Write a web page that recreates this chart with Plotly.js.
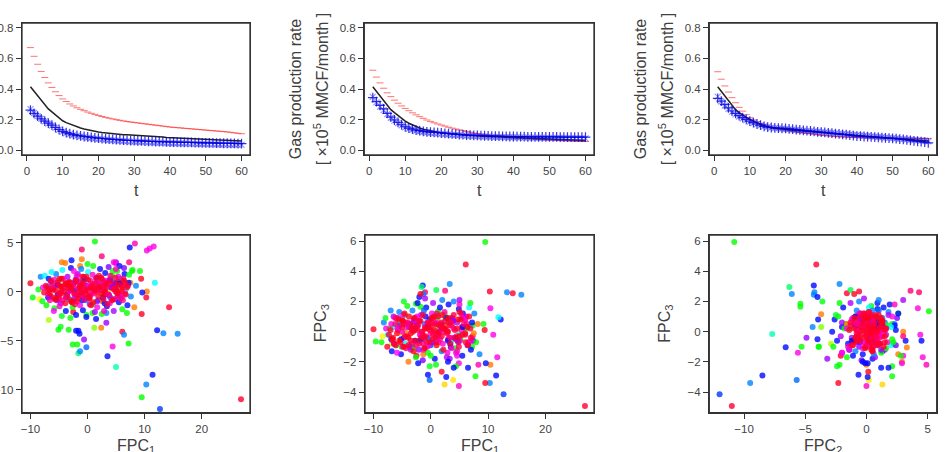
<!DOCTYPE html>
<html><head><meta charset="utf-8">
<script src="https://cdn.plot.ly/plotly-3.0.1.min.js"></script>
<style>html,body{margin:0;padding:0;background:#fff}#chart{width:946px;height:452px}</style>
</head><body><div id="chart"></div>
<script>
// ---------- top row: curves over t ----------
const t = [1,2,3,4,5,6,7,8,9,10,11,12,13,14,15,16,17,18,19,20,21,22,23,24,25,26,27,28,29,30,
  31,32,33,34,35,36,37,38,39,40,41,42,43,44,45,46,47,48,49,50,51,52,53,54,55,56,57,58,59,60];

const p1Red = [.671,.614,.562,.515,.475,.440,.410,.382,.357,.335,.318,.302,.289,.277,.267,.258,.249,.241,.234,.226,
  .220,.214,.209,.204,.199,.195,.191,.187,.184,.181,.178,.175,.172,.169,.166,.163,.160,.157,.154,.151,
  .149,.147,.145,.143,.141,.139,.137,.135,.133,.131,.129,.127,.125,.123,.121,.119,.116,.113,.110,.107];
const p1Black = [.415,.385,.355,.325,.295,.270,.250,.230,.210,.192,.180,.170,.160,.152,.145,.138,.132,.127,.122,.118,
  .115,.112,.109,.107,.105,.103,.101,.100,.099,.098,.096,.094,.093,.091,.090,.088,.087,.085,.083,.082,
  .081,.080,.079,.078,.077,.076,.075,.074,.073,.072,.071,.070,.069,.068,.067,.066,.065,.064,.062,.060];
const p1Plus = [.262,.240,.222,.205,.190,.176,.163,.148,.135,.122,.114,.108,.102,.097,.093,.089,.086,.083,.080,.078,
  .076,.074,.072,.070,.068,.067,.065,.064,.063,.062,.061,.060,.059,.058,.057,.056,.055,.055,.054,.053,
  .053,.052,.051,.051,.050,.050,.049,.049,.048,.048,.047,.047,.046,.046,.045,.045,.044,.044,.043,.043];
const p1Cross = [.268,.243,.222,.204,.188,.173,.160,.146,.133,.120,.111,.104,.098,.093,.089,.085,.081,.078,.075,.072,
  .070,.068,.066,.064,.062,.060,.059,.057,.056,.055,.054,.053,.052,.051,.050,.049,.048,.047,.046,.045,
  .045,.044,.043,.043,.042,.041,.041,.040,.040,.039,.038,.038,.037,.037,.036,.036,.035,.035,.034,.034];

const p2Red = [.523,.478,.440,.405,.375,.350,.327,.307,.289,.273,.258,.244,.231,.219,.208,.197,.188,.179,.171,.164,
  .157,.150,.144,.138,.132,.127,.122,.117,.112,.107,.104,.101,.098,.095,.093,.090,.088,.086,.083,.081,
  .080,.078,.077,.075,.074,.072,.071,.070,.068,.067,.066,.064,.063,.062,.061,.060,.059,.058,.057,.056];
const p2Black = [.415,.385,.350,.320,.290,.265,.245,.225,.207,.190,.176,.164,.154,.145,.137,.131,.125,.120,.117,.114,
  .111,.108,.105,.103,.101,.099,.097,.095,.093,.092,.091,.090,.089,.088,.087,.086,.085,.084,.082,.081,
  .080,.079,.078,.077,.076,.075,.074,.073,.072,.071,.070,.069,.069,.068,.067,.066,.066,.065,.064,.063];
const p2Plus = [.343,.318,.293,.270,.240,.216,.197,.181,.166,.153,.144,.137,.131,.127,.123,.120,.118,.116,.114,.112,
  .110,.108,.106,.104,.102,.101,.099,.098,.097,.096,.095,.094,.093,.092,.091,.091,.090,.090,.089,.089,
  .088,.088,.088,.087,.087,.087,.087,.086,.086,.086,.086,.086,.085,.085,.085,.085,.085,.085,.085,.085];
const p2Cross = [.348,.312,.285,.262,.236,.212,.193,.177,.162,.149,.140,.133,.127,.122,.118,.115,.112,.110,.108,.106,
  .104,.102,.100,.099,.097,.096,.094,.093,.092,.091,.090,.089,.088,.087,.087,.086,.085,.085,.084,.084,
  .083,.083,.082,.082,.082,.081,.081,.081,.080,.080,.080,.079,.079,.079,.078,.078,.078,.077,.077,.077];

const p3Red = [.513,.464,.420,.380,.343,.310,.280,.255,.232,.212,.198,.186,.175,.165,.157,.151,.145,.140,.135,.131,
  .127,.123,.119,.116,.113,.110,.107,.104,.100,.097,.095,.093,.091,.089,.087,.086,.085,.084,.083,.082,
  .081,.081,.080,.080,.079,.079,.079,.078,.078,.078,.078,.077,.077,.077,.077,.077,.077,.077,.077,.077];
const p3Black = [.415,.385,.355,.322,.290,.265,.245,.228,.214,.201,.189,.178,.168,.159,.151,.147,.143,.140,.138,.136,
  .134,.131,.129,.127,.125,.123,.121,.119,.117,.114,.112,.110,.107,.105,.103,.101,.099,.097,.095,.092,
  .091,.089,.088,.086,.085,.083,.082,.080,.079,.077,.076,.074,.073,.071,.069,.067,.065,.063,.061,.059];
const p3Plus = [.339,.320,.298,.277,.256,.240,.226,.213,.201,.190,.180,.171,.163,.156,.151,.148,.146,.144,.143,.142,
  .139,.137,.134,.132,.129,.127,.125,.123,.120,.118,.116,.113,.111,.108,.106,.103,.101,.098,.095,.092,
  .091,.089,.088,.086,.085,.083,.082,.080,.079,.077,.075,.072,.070,.067,.064,.061,.058,.055,.052,.048];
const p3Cross = [.350,.318,.292,.270,.250,.234,.220,.207,.196,.186,.177,.169,.162,.156,.151,.147,.144,.142,.140,.138,
  .136,.134,.132,.130,.128,.126,.124,.122,.120,.118,.116,.114,.112,.110,.108,.106,.104,.102,.100,.098,
  .096,.094,.092,.090,.088,.086,.084,.082,.080,.078,.076,.074,.072,.070,.068,.066,.064,.062,.060,.058];

// ---------- bottom row: FPC scores of the wells ----------
const fpc1 = [
  26.9,12.7,9.5,10.3,11.4,5.0,3.5,6.1,13.3,14.3,15.8,12.2,11.8,10.3,10.4,10.9,11.6,8.3,2.5,-1.0,7.4,1.3,-10.0,-9.6,5.0,
  3.3,-1.4,-2.0,-4.7,-1.6,-1.3,-2.6,-1.8,-0.6,4.4,-0.2,7.2,2.4,6.4,1.2,3.3,-1.6,9.5,10.4,9.6,9.2,9.4,-1.0,-1.3,-4.5,
  -3.9,-2.8,4.6,4.9,4.9,7.3,-6.8,-5.1,7.8,4.4,2.4,3.9,2.7,-0.5,1.9,4.0,6.5,-0.2,0.9,-2.5,-8.4,0.95,-1.8,-3.3,
  -8.2,-7.5,-8.6,-7.9,-7.2,-6.8,-6.5,-6.1,-5.8,-5.5,-5.2,-5.0,-4.7,-4.4,-4.1,-3.8,-3.5,-3.2,-2.9,-2.6,-2.3,-2.0,-1.7,-1.4,
  -1.1,-0.8,-0.5,-0.2,0.1,0.4,0.7,1.0,1.3,1.6,1.9,2.2,2.5,2.8,3.1,3.4,3.7,4.0,4.3,4.6,4.9,5.2,5.5,5.8,6.1,6.4,6.7,7.0,
  7.3,7.6,7.9,8.2,8.5,6.9,5.6,-6.3,-7.0,-3.0,-4.5,1.5,0.0,2.0,-1.0,3.0,-2.2,7.5,6.0,-5.4,2.6,-1.2,3.6,-3.6,4.8,-0.3,1.1,-6.9,
  -7.8,-6.6,-5.6,-4.9,-4.2,-3.3,-2.7,-1.9,-1.3,-0.6,0.2,0.9,1.7,2.4,3.2,3.9,4.6,5.4,6.2,7.1,-2.4,2.9,-5.9,5.0,
  -7.3,-6.9,-6.4,-6.0,-5.7,-5.2,-4.8,-4.5,-4.0,-3.7,-3.4,-3.0,-2.7,-2.5,-2.1,-1.8,-1.6,-1.2,-0.9,-0.7,
  -0.4,-0.1,0.2,0.5,0.8,1.1,1.4,1.7,2.1,2.4,2.7,3.0,3.3,3.6,3.9,4.2,4.5,4.8,5.1,5.4,
  5.7,6.0,6.3,6.6,6.9,7.2,-7.6,-6.2,-5.0,-3.9,-2.9,-2.0,-1.0,0.0,1.0,2.0,3.0,4.0,5.0,6.0,
  -6.7,-5.4,-4.3,-3.2,-2.3,-1.4,-0.5,0.4,1.3,2.2,3.1,4.1,5.3,6.5,-5.8,-4.6,-3.5,-2.4,-1.3,-0.2,
  0.9,1.9,2.9,3.8,4.7,5.6,-6.1,-3.8,-1.7,0.6,2.6,4.4,-4.9,-2.6,-0.6,1.5,3.4,5.5,-3.1,0.3,
  -7.0,-6.6,-6.2,-5.9,-5.6,-5.3,-5.0,-4.7,-4.4,-4.1,-3.8,-3.5,-3.2,-2.9,-2.6,-2.3,-2.0,-1.7,-1.4,-1.1,-0.8,-0.5,-0.2,0.1,
  0.4,0.7,1.0,1.3,1.6,1.9,2.2,2.5,2.8,3.1,3.4,3.7,4.0,4.3,4.6,4.9,5.2,5.5,5.8,6.1,6.4,6.7,7.0,
  -6.4,-4.9,-3.9,-2.2,-0.9,0.6,2.0,3.5,5.0,-3.0,-4.6,-1.5,0.0,1.2,-0.3,0.9,-2.8,3.0,-5.5,6.0,-1.0,0.3,1.8];
const fpc2 = [
  -11.0,-12.0,-10.8,-9.5,-8.5,-7.7,-6.6,-4.1,-4.25,-1.6,-4.3,-3.95,0.9,-0.6,4.2,4.4,4.6,4.9,3.6,4.3,4.5,5.1,0.85,-0.6,3.0,
  -2.2,-4.3,-4.0,-3.6,-6.3,-6.1,-5.4,-5.4,-4.9,-5.6,-5.7,-5.3,-3.7,-4.4,-3.7,-3.2,-4.0,-2.3,0.0,-0.1,2.1,1.3,3.3,2.6,3.0,
  2.9,3.2,3.0,2.9,0.0,3.0,-2.9,-3.9,2.1,2.1,1.3,0.2,0.1,-0.65,0.15,1.2,1.8,-2.4,-2.2,-2.1,-0.8,-1.3,-1.0,-3.9,
  1.5,1.6,0.2,-1.0,-1.4,1.3,-0.5,0.9,-1.7,1.8,-0.3,1.1,-1.2,2.2,0.4,-2.0,1.5,-0.8,2.4,-1.6,0.9,-2.4,1.8,-0.4,
  2.3,-1.9,1.2,-2.6,2.0,-1.3,0.5,2.6,-2.1,1.4,-0.9,2.3,-2.3,0.7,1.9,-1.5,2.5,-0.6,1.6,-2.0,0.9,2.1,-1.1,1.3,-1.8,2.4,0.2,-1.4,
  1.7,-0.5,2.2,-1.6,0.6,-2.2,2.6,2.0,0.5,-2.7,-2.5,-2.8,2.8,1.0,-0.2,-0.3,0.1,0.9,0.1,0.7,-1.0,1.0,0.4,-0.3,-0.8,-0.9,0.3,-0.6,
  0.4,-0.9,0.6,-1.5,1.3,0.0,-1.1,1.6,-1.4,0.7,-0.6,1.7,-1.6,0.2,1.1,-1.2,0.5,1.5,-0.9,0.6,2.1,-2.0,-2.0,2.3,
  0.6,-0.3,1.0,0.2,-0.8,0.7,-0.1,1.3,0.4,-0.6,0.9,0.1,-1.1,0.5,1.2,-0.4,0.3,0.8,-0.9,1.5,
  0.0,0.6,-0.5,1.1,0.3,-0.2,0.8,-1.0,0.5,1.4,-0.6,0.2,0.9,-0.3,1.2,0.4,-0.8,0.7,0.1,1.0,
  -0.5,0.6,1.3,-0.2,0.4,0.9,-0.1,0.3,-0.7,0.8,0.2,1.1,-0.4,0.5,0.0,0.7,-1.2,1.6,0.3,-0.6,
  0.2,-0.9,0.5,1.0,-0.3,0.6,1.3,-0.6,0.1,0.8,-0.2,0.4,-0.5,0.9,1.2,0.0,0.7,-0.8,0.3,1.5,
  -0.1,0.5,1.0,-0.4,0.2,0.8,0.3,-0.6,1.1,0.4,-0.3,0.7,0.6,-1.0,0.1,1.3,0.5,-0.2,0.9,-0.5,
  0.3,-0.2,0.6,-0.6,0.1,0.9,-0.4,0.5,-0.9,0.0,0.8,-0.5,0.3,-1.0,0.7,-0.2,1.1,-0.7,0.4,-0.1,0.9,-0.8,0.2,1.2,
  -0.4,0.6,-1.1,0.1,0.9,-0.5,0.4,1.3,-0.8,0.0,0.8,-0.3,1.0,-0.9,0.3,1.4,-0.2,0.7,-0.7,0.4,1.1,-0.3,0.6,
  1.1,1.3,-1.2,-1.3,1.5,-1.4,1.6,-1.3,0.2,0.5,-0.2,0.0,0.1,0.3,-0.3,0.8,0.2,0.6,-0.8,0.0,0.5,-0.7,0.0];
const fpc3 = [
  -4.93,-4.15,5.93,-3.4,-2.9,-0.15,-1.04,4.45,2.6,2.55,2.45,0.8,0.95,2.65,1.55,-0.2,-1.7,-2.2,2.7,2.6,-0.6,1.35,0.15,-0.65,2.1,
  3.15,3.05,2.3,2.0,2.95,2.5,1.85,1.65,-0.4,-1.4,-3.2,-1.0,1.15,0.3,0.3,-1.8,-0.5,-3.4,-2.2,-2.1,0.5,0.1,-1.05,-1.5,0.0,
  -2.0,-0.6,-1.6,-2.1,-3.6,-0.3,-0.8,-1.0,-2.95,-2.3,-3.5,-3.2,-3.0,-2.85,-2.65,-2.4,-2.4,-2.3,-2.2,-1.6,-0.3,2.75,2.5,-1.0,
  0.6,-0.2,-0.7,0.9,0.2,-1.3,1.0,-0.9,0.5,1.3,-1.5,0.8,-0.4,-0.8,1.7,0.3,-1.2,1.4,0.1,-1.7,1.9,-0.6,1.1,-1.9,
  0.5,1.6,-1.4,0.8,-0.9,1.9,-1.8,1.2,-0.3,1.6,-1.3,0.4,1.0,-1.7,1.8,-0.8,0.9,2.0,-1.1,0.6,1.5,-0.5,-1.6,0.9,0.2,-0.9,1.6,-1.2,
  0.4,1.2,-0.7,0.5,-1.5,1.9,1.2,0.3,1.4,-1.0,1.1,0.0,-1.6,2.1,2.2,-2.0,-2.1,-0.1,0.8,-0.1,0.3,1.4,-0.6,0.5,-0.7,-0.5,0.9,-0.5,
  0.2,-0.6,0.9,-1.0,0.3,-0.8,0.9,-0.2,-1.2,0.6,1.2,-0.7,0.2,1.3,-0.4,0.8,-1.3,0.1,1.0,-0.6,1.0,-1.4,-1.4,1.8,
  -0.2,0.5,-0.8,0.9,0.1,-0.5,1.1,-0.3,0.6,-1.0,0.2,0.8,-0.6,0.4,-1.2,0.7,0.0,-0.4,1.0,-0.7,
  0.3,-0.9,0.6,0.0,-0.4,1.2,-0.1,0.5,-0.8,0.2,0.9,-0.5,0.4,-1.1,0.7,0.1,-0.3,0.8,-0.6,0.3,
  1.0,-0.2,0.5,-0.7,0.2,0.6,-1.0,0.9,0.0,-0.4,0.7,-0.8,0.3,-0.1,0.5,1.1,-0.6,0.2,-0.3,0.8,
  -0.5,0.4,-1.1,0.1,0.7,-0.2,0.3,0.9,-0.7,0.0,0.6,-0.4,1.2,-0.9,0.2,0.5,-0.1,0.4,-0.8,0.1,
  0.6,-0.3,0.0,0.8,-0.6,0.3,-0.9,0.5,-0.2,1.0,0.1,-0.5,0.7,0.2,-1.0,0.4,-0.4,0.9,0.0,-0.7,
  0.1,-0.4,0.5,-0.1,0.8,-0.7,0.3,-1.0,0.6,-0.3,1.0,-0.6,0.4,0.9,-0.9,0.1,0.7,-0.4,1.1,-1.1,0.2,0.6,-0.7,0.9,
  -0.2,0.5,-0.9,1.0,-0.5,0.3,-1.2,0.7,-0.1,0.9,-0.8,0.4,1.1,-0.4,0.2,-1.0,0.8,-0.2,0.5,-0.7,0.3,1.0,-0.4,
  -0.8,0.7,-0.9,0.4,-0.3,0.1,0.2,0.6,1.3,-1.3,1.2,0.0,0.3,-0.1,0.5,-0.3,0.2,0.0,-0.6,-0.1,0.2,-0.5,0.6];
// colour covariate of each well (position on the rainbow scale)
const wellHue = [
  .97,.63,.33,.58,.66,.45,.66,.97,.58,.97,.58,.66,.5,.97,.85,.85,.85,.88,.92,.93,.66,.33,.98,.33,.78,
  .58,.66,.66,.35,.4,.58,.33,.33,.77,.85,.6,.33,.08,.58,.25,.77,.66,.98,.08,.66,.33,.98,.08,.08,.08,
  .08,.66,.85,.85,.87,.92,.22,.33,.33,.33,.14,.15,.66,.66,.98,.66,.66,.35,.33,.98,.16,.38,.98,.33,
  .58,.5,.33,.35,.33,.66,.78,.4,.33,.58,.66,.33,.78,.5,.33,.66,.78,.58,.66,.33,.66,.66,.78,.75,
  .58,.66,.33,.66,.5,.78,.66,.33,.78,.66,.58,.66,.33,.78,.66,.66,.75,.58,.33,.78,.66,.33,.66,.58,.33,.75,.5,.66,
  .35,.58,.33,.08,.58,.33,.66,.5,.58,.33,.35,.66,.33,.58,.78,.66,.66,.08,.08,.16,.08,.6,.5,.66,.75,.58,.33,.66,
  .85,.88,.83,.87,.85,.9,.83,.87,.85,.9,.83,.87,.85,.88,.85,.83,.87,.85,.9,.85,.85,.87,.83,.88,
  .97,.86,.77,.92,.97,.66,.86,.97,.92,.77,.97,.86,.99,.92,.77,.97,.86,.95,.66,.97,
  .92,.77,.97,.86,.99,.92,.97,.77,.86,.97,.66,.92,.97,.86,.77,.97,.92,.99,.86,.97,
  .77,.97,.92,.86,.97,.66,.97,.92,.86,.99,.77,.97,.92,.86,.97,.97,.66,.92,.97,.86,
  .97,.77,.92,.97,.86,.99,.66,.97,.92,.86,.97,.77,.92,.97,.86,.97,.99,.77,.92,.97,
  .86,.97,.92,.77,.97,.66,.97,.92,.86,.97,.99,.77,.92,.97,.86,.97,.92,.86,.97,.77,
  .97,.99,.92,.97,.98,.96,.97,.99,.92,.97,.98,.96,.97,.99,.92,.97,.98,.97,.96,.99,.97,.92,.97,.98,
  .97,.96,.99,.97,.92,.97,.98,.97,.96,.99,.97,.92,.97,.98,.97,.96,.99,.97,.92,.97,.98,.97,.96,
  .97,.99,.97,.95,.97,.98,.97,.96,.97,.99,.97,.96,.97,.98,.97,.95,.97,.97,.99,.97,.98,.97,.96];

// ---------- layout ----------
const W = 946, H = 452;
const boxes = [
  {l:22, r:250, t:23, b:155}, {l:364.3, r:594, t:23, b:155}, {l:709.3, r:936.7, t:23, b:155},
  {l:22, r:250, t:235, b:412.7}, {l:365, r:594, t:235, b:412.7}, {l:709.3, r:936.7, t:235, b:412.7}];
const fx = x => x / W, fy = y => 1 - y / H;
const tickFont = {family:'"Liberation Sans", Arial, sans-serif', size:11.5, color:'#444'};
const titleFont = {family:'"Liberation Sans", Arial, sans-serif', size:16, color:'#404040'};

function axis(dom, range, tickvals, anchor, fmt) {
  const a = {domain:dom, range:range, tickvals:tickvals, anchor:anchor, showgrid:false, zeroline:false,
    showline:true, mirror:true, linecolor:'#333', linewidth:1.3, ticks:'outside', ticklen:5, tickwidth:1,
    tickcolor:'#333', tickfont:tickFont, fixedrange:true};
  if (fmt) a.tickformat = fmt;
  return a;
}
const tRange = [-1.36, 62.36], rateRange = [-0.032, 0.832];
const tTicks = [0,10,20,30,40,50,60], rateTicks = [0,0.2,0.4,0.6,0.8];
const layout = {width:W, height:H, margin:{l:0,r:0,t:0,b:0}, paper_bgcolor:'#fff', plot_bgcolor:'#fff',
  showlegend:false, annotations:[]};
const ids = ['', '2', '3', '4', '5', '6'];
const xr = [tRange, tRange, tRange, [-11.48,28.48], [-11.48,28.48], [-12.84,5.74]];
const yr = [rateRange, rateRange, rateRange, [-12.37,5.77], [-5.37,6.40], [-5.37,6.40]];
const xt = [tTicks, tTicks, tTicks, [-10,0,10,20], [-10,0,10,20], [-10,-5,0,5]];
const yt = [rateTicks, rateTicks, rateTicks, [-10,-5,0,5], [-4,-2,0,2,4,6], [-4,-2,0,2,4,6]];
boxes.forEach((b, i) => {
  layout['xaxis' + ids[i]] = axis([fx(b.l), fx(b.r)], xr[i], xt[i], 'y' + ids[i]);
  layout['yaxis' + ids[i]] = axis([fy(b.b), fy(b.t)], yr[i], yt[i], 'x' + ids[i], i < 3 ? '.1f' : null);
});

function ann(text, x, y, angle) {
  layout.annotations.push({text:text, xref:'paper', yref:'paper', x:fx(x), y:fy(y), xanchor:'center',
    yanchor:'middle', showarrow:false, textangle:angle || 0, font:titleFont});
}
for (let i = 0; i < 3; i++) {
  const b = boxes[i], cx = (b.l + b.r) / 2, cy = (b.t + b.b) / 2;
  ann('t', cx, 191, 0);
  ann('Gas production rate', b.l - 69, cy, -90);
  ann('[ \u00d710<sup>5</sup> MMCF/month ]', b.l - 43, cy, -90);
}
const xNames = ['FPC<sub>1</sub>', 'FPC<sub>1</sub>', 'FPC<sub>2</sub>'];
const yNames = ['FPC<sub>2</sub>', 'FPC<sub>3</sub>', 'FPC<sub>3</sub>'];
for (let i = 3; i < 6; i++) {
  const b = boxes[i], cx = (b.l + b.r) / 2, cy = (b.t + b.b) / 2;
  ann(xNames[i-3], cx, 446, 0);
  ann(yNames[i-3], b.l - 43.5, cy, -90);
}

// ---------- traces ----------
const traces = [];
const curveSets = [[p1Red,p1Black,p1Cross,p1Plus],[p2Red,p2Black,p2Cross,p2Plus],[p3Red,p3Black,p3Cross,p3Plus]];
curveSets.forEach((s, i) => {
  const xa = 'x' + ids[i], ya = 'y' + ids[i];
  traces.push({x:t, y:s[0], xaxis:xa, yaxis:ya, type:'scatter', mode:'markers',
    marker:{symbol:'line-ew', size:5, line:{width:1, color:'rgba(255,40,40,0.65)'}}});
  traces.push({x:t, y:s[1], xaxis:xa, yaxis:ya, type:'scatter', mode:'lines',
    line:{color:'#222', width:1.5}});
  traces.push({x:t, y:s[2], xaxis:xa, yaxis:ya, type:'scatter', mode:'markers',
    marker:{symbol:'x-thin', size:6, line:{width:1.2, color:'rgba(30,30,255,0.45)'}}});
  traces.push({x:t, y:s[3], xaxis:xa, yaxis:ya, type:'scatter', mode:'markers',
    marker:{symbol:'cross-thin', size:7, line:{width:1.2, color:'rgba(0,0,220,0.8)'}}});
});
const hueScale = [[0,'#ff0000'],[1/6,'#ffff00'],[2/6,'#00ff00'],[0.5,'#00ffff'],[4/6,'#0000ff'],[5/6,'#ff00ff'],[1,'#ff0000']];
const pairs = [[fpc1, fpc2], [fpc1, fpc3], [fpc2, fpc3]];
pairs.forEach((p, k) => {
  const i = k + 3;
  traces.push({x:p[0], y:p[1], xaxis:'x' + ids[i], yaxis:'y' + ids[i], type:'scatter', mode:'markers',
    marker:{size:6, color:wellHue, colorscale:hueScale, cmin:0, cmax:1, showscale:false, opacity:0.8, line:{width:0}}});
});

Plotly.newPlot('chart', traces, layout, {displayModeBar:false, staticPlot:true}).then(gd => {
  // frame every panel once more on top of the drawn data
  const shapes = boxes.map((b, i) => ({type:'rect', xref:'x' + ids[i] + ' domain', yref:'y' + ids[i] + ' domain',
    x0:0, x1:1, y0:0, y1:1, line:{color:'#333', width:1.3}, fillcolor:'rgba(0,0,0,0)', layer:'above'}));
  return Plotly.relayout(gd, {shapes:shapes});
});
</script></body></html>
